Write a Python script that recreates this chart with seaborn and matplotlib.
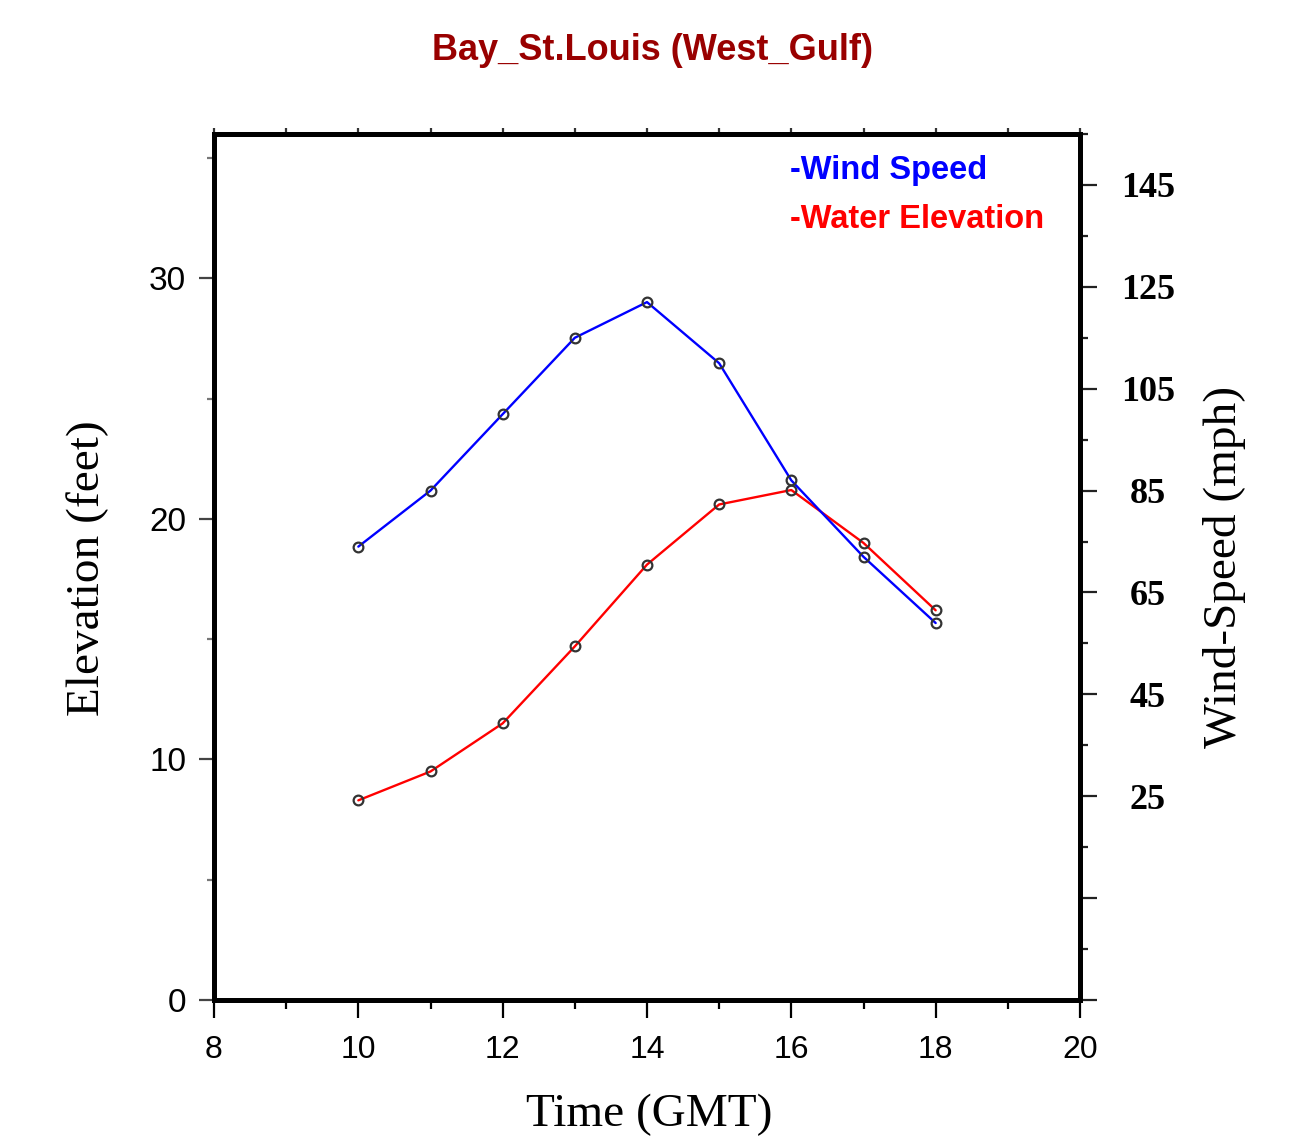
import numpy as np
import pandas as pd
import matplotlib
matplotlib.use("Agg")
import matplotlib.pyplot as plt
from matplotlib.ticker import MultipleLocator, FixedLocator
import seaborn as sns

# ---- data ----
hours = [10, 11, 12, 13, 14, 15, 16, 17, 18]
water_elev_ft = [8.3, 9.5, 11.5, 14.7, 18.1, 20.6, 21.2, 19.0, 16.2]
wind_speed_mph = [74, 85, 100, 115, 122, 110, 87, 72, 59]

title = "Bay_St.Louis (West_Gulf)"
xlabel = "Time (GMT)"
ylabel_left = "Elevation (feet)"
ylabel_right = "Wind-Speed (mph)"
legend_wind = "-Wind Speed"
legend_water = "-Water Elevation"
right_tick_values = [-15, 5, 25, 45, 65, 85, 105, 125, 145]
right_tick_labels = ["", "", "25", "45", "65", "85", "105", "125", "145"]

df = pd.DataFrame({"hour": hours, "water": water_elev_ft, "wind": wind_speed_mph})

sns.set_style("white")
plt.rcParams["font.family"] = ["Liberation Sans", "DejaVu Sans"]
plt.rcParams["text.color"] = "black"

W, H = 1296, 1143
fig = plt.figure(figsize=(W / 100, H / 100), dpi=100)
ax = fig.add_axes([214 / W, 1 - 1000 / H, (1080 - 214) / W, (1000 - 134) / H])
ax2 = ax.twinx()

marker_kws = dict(marker="o", markersize=7, markerfacecolor="none",
                  markeredgecolor="#333333", markeredgewidth=1.6)
sns.lineplot(data=df, x="hour", y="water", color="#ff0000", lw=1.7, ax=ax, **marker_kws)
sns.lineplot(data=df, x="hour", y="wind", color="#0000ff", lw=1.7, ax=ax2, **marker_kws)

ax.set_xlim(8, 20)
ax.set_ylim(0, 36)
ax2.set_ylim(-15, 155)

ax.set_xlabel("")
ax.set_ylabel("")
ax2.set_ylabel("")

# spines
for a in (ax, ax2):
    for s in a.spines.values():
        s.set_linewidth(3.5)
        s.set_color("black")

# x axis ticks (bottom)
ax.xaxis.set_major_locator(MultipleLocator(2))
ax.xaxis.set_minor_locator(MultipleLocator(1))
ax.tick_params(axis="x", which="major", bottom=True, top=False, direction="out",
               length=13, width=1.6, color="black", labelsize=23, pad=12,
               labelcolor="black")
ax.tick_params(axis="x", which="minor", bottom=True, top=False, direction="out",
               length=6.5, width=1.6, color="black")

# top ticks via secondary axis
sec = ax.secondary_xaxis("top")
sec.set_xticks(list(range(8, 21)))
sec.tick_params(axis="x", direction="out", length=4.5, width=1.6, labeltop=False, color="#333333")
sec.spines["top"].set_linewidth(3.5)

# left y ticks
ax.yaxis.set_major_locator(MultipleLocator(10))
ax.yaxis.set_minor_locator(MultipleLocator(5))
ax.tick_params(axis="y", which="major", left=True, right=False, direction="out",
               length=11, width=1.6, color="#444444", labelsize=24, pad=9,
               labelcolor="black")
ax.tick_params(axis="y", which="minor", left=True, right=False, direction="out",
               length=5, width=1.6, color="#777777")

# right y ticks
ax2.set_yticks(right_tick_values, labels=right_tick_labels,
               fontfamily="Liberation Serif", fontweight="bold", fontsize=26, ha="center",
               color="black")
ax2.yaxis.set_minor_locator(FixedLocator([v + 10 for v in right_tick_values]))
ax2.tick_params(axis="y", which="major", right=True, left=False, direction="out",
                length=12, width=1.6, color="#222222", pad=37)
ax2.tick_params(axis="y", which="minor", right=True, left=False, direction="out",
                length=6, width=1.6, color="#222222")

# texts
fig.text(652 / W, 1 - 50 / H, title, ha="center", va="center", color="#990000",
         fontsize=26, fontweight="bold")
fig.text(790 / W, 1 - 171 / H, legend_wind, ha="left", va="center", color="#0000ff",
         fontsize=23.5, fontweight="bold")
fig.text(790 / W, 1 - 219 / H, legend_water, ha="left", va="center", color="#ff0000",
         fontsize=23.5, fontweight="bold")
fig.text(649 / W, 1 - 1115 / H, xlabel, ha="center", va="center", color="black",
         fontfamily="Liberation Serif", fontsize=34)
fig.text(88 / W, 1 - 568 / H, ylabel_left, ha="center", va="center", rotation=90,
         color="black", fontfamily="Liberation Serif", fontsize=34)
fig.text(1225 / W, 1 - 567 / H, ylabel_right, ha="center", va="center", rotation=90,
         color="black", fontfamily="Liberation Serif", fontsize=34)

fig.savefig("out.png", dpi=100, facecolor="white")
